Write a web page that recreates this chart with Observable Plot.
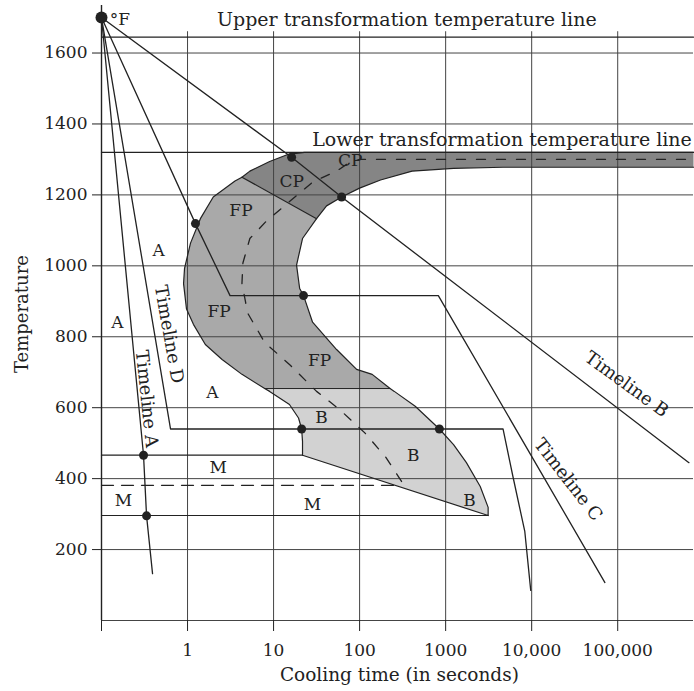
<!DOCTYPE html>
<html><head><meta charset="utf-8">
<script src="https://cdn.jsdelivr.net/npm/d3@7"></script>
<script src="https://cdn.jsdelivr.net/npm/@observablehq/plot@0.6"></script>
<style>html,body{margin:0;padding:0;background:#fff;}</style>
</head><body><div id="chart"></div>
<script>
// ---- axes ----
const xTicks = [0.1, 1, 10, 100, 1000, 10000, 100000];
const xTickLabels = ["", "1", "10", "100", "1000", "10,000", "100,000"];
const yTicks = [200, 400, 600, 800, 1000, 1200, 1400, 1600];
const yTickLabels = ["200", "400", "600", "800", "1000", "1200", "1400", "1600"];
const gridYValues = [0, 200, 400, 600, 800, 1000, 1200, 1400, 1600];
const gridXValues = [1, 10, 100, 1000, 10000, 100000];

// ---- reference temperatures (°F) ----
const upperTransformation = [[0.1, 1645], [760000, 1645]];
const lowerTransformation = [[0.1, 1320], [760000, 1320]];
const martensiteStart = [[0.1, 466], [21.7, 466]];
const martensiteHalf = [[0.1, 381], [267, 381]];
const martensiteFinish = [[0.1, 296], [3119, 296]];

// ---- transformation start curve (outer), [seconds, °F] ----
const startCurveCP = [[760000, 1320], [22.9, 1320], [14.6, 1314], [9.0, 1294], [5.30, 1267], [4.29, 1250]];
const startCurveFP = [[4.29, 1250], [3.56, 1239], [1.99, 1194], [1.41, 1133], [1.083, 1064], [0.923, 993], [0.899, 950], [0.973, 878], [1.17, 835], [1.61, 778], [2.52, 736], [4.29, 694], [7.88, 654]];
const startCurveB = [[7.88, 654], [9.0, 646], [15.3, 609], [19.5, 571], [21.2, 540], [21.7, 505], [21.7, 466]];
const bainiteTip = [[3119, 296]];
// ---- transformation finish curve (inner) ----
const finishCurveB = [[3119, 296], [3119, 319], [2524, 378], [1743, 445], [1236, 496], [846, 540], [443, 604], [253, 646], [226, 654]];
const finishCurveFP = [[226, 654], [140, 694], [92.3, 708], [54, 764], [28.4, 841], [22.3, 916], [20.1, 936], [18.5, 1002], [21.7, 1077], [31.6, 1133]];
const finishCurveCP = [[31.6, 1133], [41.3, 1169], [61.8, 1194], [100, 1219], [175, 1242], [407, 1267], [1236, 1275], [4645, 1278], [760000, 1278]];
// ---- zone boundaries ----
const cpFpBoundary = [[4.29, 1250], [31.6, 1133]];
const fpBBoundary = [[7.88, 654], [226, 654]];
// ---- 50% transformation (dashed) ----
const halfTransformation = [[307, 392], [202, 460], [115, 529], [58.5, 595], [31.6, 646], [15.3, 722], [7.88, 784], [5.02, 866], [4.29, 950], [4.40, 1008], [5.30, 1077], [8.32, 1127], [28.4, 1236], [54, 1267], [76.5, 1292], [100, 1300], [760000, 1300]];

// ---- cooling timelines ----
const timelineA = [[0.1, 1700], [0.308, 466], [0.334, 295], [0.392, 132]];
const timelineB = [[0.1, 1700], [16.2, 1306], [61.8, 1194], [673000, 445]];
const timelineC = [[0.1, 1700], [1.236, 1119], [3.12, 916], [822, 916], [71000, 107]];
const timelineD = [[0.1, 1700], [0.634, 540], [4645, 540], [6053, 406], [8318, 251], [9750, 85]];
const startPoint = [[0.1, 1700]];
const crossingPoints = [[16.2, 1306], [61.8, 1194], [1.236, 1119], [22.3, 916], [21.2, 540], [846, 540], [0.308, 466], [0.334, 295]];

// ---- labels ----
const regionLabels = [
  {text: "CP", t: 78, temp: 1297},
  {text: "CP", t: 16.2, temp: 1239},
  {text: "FP", t: 4.18, temp: 1155},
  {text: "FP", t: 2.33, temp: 870},
  {text: "FP", t: 34.3, temp: 732},
  {text: "B", t: 36.1, temp: 571},
  {text: "B", t: 419, temp: 466},
  {text: "B", t: 1888, temp: 338},
  {text: "A", t: 0.46, temp: 1044},
  {text: "A", t: 0.153, temp: 841},
  {text: "A", t: 1.94, temp: 643},
  {text: "M", t: 2.27, temp: 430},
  {text: "M", t: 0.18, temp: 338},
  {text: "M", t: 28.4, temp: 327}
];
const unitLabel = {text: "°F", t: 0.125, temp: 1695};
const upperLabel = {text: "Upper transformation temperature line", t: 354, temp: 1692};
const lowerLabel = {text: "Lower transformation temperature line", t: 4519, temp: 1356};
const timelineALabel = {text: "Timeline A", t: 0.335, temp: 625};
const timelineDLabel = {text: "Timeline D", t: 0.61, temp: 807};
const timelineBLabel = {text: "Timeline B", t: 127000, temp: 666};
const timelineCLabel = {text: "Timeline C", t: 26600, temp: 397};
const xTitle = {text: "Cooling time (in seconds)", t: 290};
const yTitle = {text: "Temperature", temp: 864};

const X = d => d[0], Y = d => d[1];
const ink = "#222";
const lineOpts = (extra) => Object.assign({x: X, y: Y, stroke: ink, strokeWidth: 1.3, curve: "linear"}, extra || {});
const txt = (lab, extra) => Plot.text([lab], Object.assign({x: "t", y: "temp", text: "text", fill: ink, fontSize: 18}, extra || {}));

const chart = Plot.plot({
  width: 694, height: 691,
  marginLeft: 101, marginRight: 1, marginTop: 5, marginBottom: 71,
  x: {type: "log", domain: [0.1, 760000]},
  y: {domain: [0, 1734]},
  style: {fontFamily: "'DejaVu Serif', serif", fontSize: "17px", color: ink, background: "#fff"},
  marks: [
    // shaded zones
    Plot.line([...startCurveCP, ...finishCurveCP], {x: X, y: Y, fill: "#858585", stroke: "none"}),
    Plot.line([...startCurveFP, ...finishCurveFP], {x: X, y: Y, fill: "#a9a9a9", stroke: "none"}),
    Plot.line([...startCurveB, ...bainiteTip, ...finishCurveB], {x: X, y: Y, fill: "#d2d2d2", stroke: "none"}),
    // grid
    Plot.ruleY(gridYValues, {stroke: "#444", strokeWidth: 1}),
    Plot.ruleX(gridXValues, {y1: 0, y2: 1660, stroke: "#444", strokeWidth: 1}),
    Plot.ruleX([0.1], {y1: 0, y2: 1734, stroke: ink, strokeWidth: 1.4}),
    // axes
    Plot.axisX({ticks: xTicks, tickFormat: d => xTickLabels[xTicks.indexOf(d)], tickSize: 11, tickPadding: 12, label: null, fontSize: 17}),
    Plot.axisY({ticks: yTicks, tickFormat: d => yTickLabels[yTicks.indexOf(d)], tickSize: 9, tickPadding: 5, label: null, fontSize: 17}),
    // reference lines
    Plot.line(upperTransformation, lineOpts({strokeWidth: 1.2})),
    Plot.line(lowerTransformation, lineOpts({strokeWidth: 1.2})),
    Plot.line(martensiteStart, lineOpts({strokeWidth: 1.2})),
    Plot.line(martensiteHalf, lineOpts({strokeWidth: 1.3, strokeDasharray: "12,8"})),
    Plot.line(martensiteFinish, lineOpts({strokeWidth: 1.2})),
    // zone outlines
    Plot.line([...startCurveCP, ...startCurveFP, ...startCurveB, ...bainiteTip, ...finishCurveB, ...finishCurveFP, ...finishCurveCP], lineOpts({strokeWidth: 1.2})),
    Plot.line(cpFpBoundary, lineOpts({strokeWidth: 1.2})),
    Plot.line(fpBBoundary, lineOpts({strokeWidth: 1.0})),
    Plot.line(halfTransformation, lineOpts({strokeWidth: 1.3, strokeDasharray: "9,11"})),
    // timelines
    Plot.line(timelineA, lineOpts()),
    Plot.line(timelineB, lineOpts()),
    Plot.line(timelineC, lineOpts()),
    Plot.line(timelineD, lineOpts()),
    Plot.dot(startPoint, {x: X, y: Y, r: 6, fill: ink}),
    Plot.dot(crossingPoints, {x: X, y: Y, r: 4.5, fill: ink}),
    // labels
    Plot.text(regionLabels, {x: "t", y: "temp", text: "text", fill: ink, fontSize: 17}),
    txt(unitLabel, {textAnchor: "start", fontSize: 17}),
    txt(upperLabel, {fontSize: 19}),
    txt(lowerLabel, {fontSize: 19}),
    txt(timelineALabel, {rotate: 84}),
    txt(timelineDLabel, {rotate: 80}),
    txt(timelineBLabel, {rotate: 36}),
    txt(timelineCLabel, {rotate: 52}),
    Plot.text([xTitle], {x: "t", frameAnchor: "bottom", textAnchor: "middle", lineAnchor: "middle", dy: 55, text: "text", fill: ink, fontSize: 18.5}),
    Plot.text([yTitle], {y: "temp", frameAnchor: "left", textAnchor: "middle", lineAnchor: "middle", dx: -79, rotate: -90, text: "text", fill: ink, fontSize: 18})
  ]
});
document.getElementById("chart").appendChild(chart);
</script>
</body></html>
